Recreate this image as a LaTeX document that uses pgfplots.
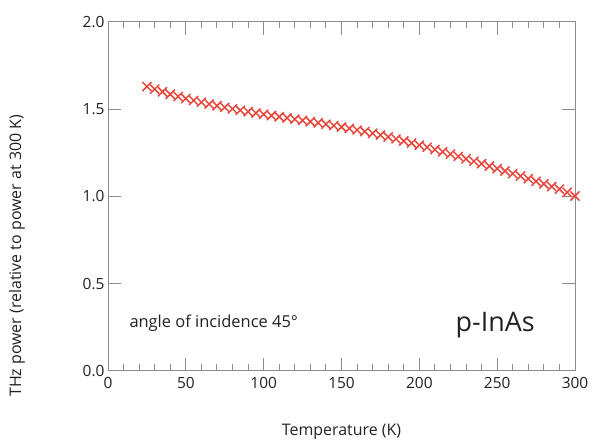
\documentclass[border=0pt]{standalone}
\usepackage{fontspec}
\setmainfont{Open Sans}
\usepackage{pgfplots}
\pgfplotsset{compat=1.18}

\definecolor{crossred}{HTML}{E8463A}
\definecolor{axisgray}{HTML}{8C8C8C}
\definecolor{txt}{HTML}{222222}

\begin{document}
\begin{tikzpicture}
\begin{axis}[
	scale only axis,
	width=467bp, height=349bp,
	xmin=0, xmax=300, ymin=0, ymax=2.0,
	xtick={0,50,...,300},
	minor x tick num=4,
	ytick={0,0.5,1.0,1.5,2.0},
	tick align=inside,
	tick pos=both,
	major tick length=13bp,
	minor tick length=6.5bp,
	axis line style={draw=axisgray,line width=1pt},
	every tick/.style={draw=axisgray,line width=1pt},
	/pgf/number format/assume math mode=true,
	yticklabel style={/pgf/number format/.cd,fixed,fixed zerofill,precision=1},
	tick label style={font=\fontsize{15.5}{18}\selectfont,text=txt},
	xticklabel style={yshift=-3bp},
	xlabel={Temperature (K)},
	ylabel={THz power (relative to power at 300 K)},
	label style={font=\fontsize{16}{18}\selectfont,text=txt},
	xlabel style={at={(rel axis cs:0.5,-0.175)},anchor=center},
	ylabel style={at={(rel axis cs:-0.195,0.33)},anchor=center},
	clip=false,
]
\addplot[only marks,mark=x,mark size=6.4bp,color=crossred,
	mark options={line width=1.5pt}]
	coordinates {
	(25,1.630) (30,1.615) (35,1.600) (40,1.586) (45,1.573) (50,1.561)
	(55,1.550) (60,1.540) (65,1.530) (70,1.520) (75,1.511) (80,1.502)
	(85,1.494) (90,1.486) (95,1.478) (100,1.471) (105,1.464) (110,1.457)
	(115,1.450) (120,1.443) (125,1.436) (130,1.429) (135,1.422) (140,1.414)
	(145,1.406) (150,1.398) (155,1.390) (160,1.381) (165,1.372) (170,1.362)
	(175,1.352) (180,1.341) (185,1.330) (190,1.318) (195,1.306) (200,1.294)
	(205,1.282) (210,1.269) (215,1.256) (220,1.243) (225,1.230) (230,1.216)
	(235,1.202) (240,1.188) (245,1.174) (250,1.160) (255,1.146) (260,1.131)
	(265,1.117) (270,1.102) (275,1.087) (280,1.072) (285,1.057) (290,1.042)
	(295,1.024) (300,1.003)
	};
\node[anchor=base west,font=\fontsize{16.5}{18}\selectfont,text=txt]
	at (rel axis cs:0.0385,0.126) {angle of incidence 45°};
\node[anchor=base west,font=\fontsize{27}{30}\selectfont,text=txt]
	at (rel axis cs:0.737,0.112) {p-InAs};
\path (rel axis cs:-0.2313,-0.2006) rectangle (rel axis cs:1.0364,1.063);
\end{axis}
\end{tikzpicture}
\end{document}
